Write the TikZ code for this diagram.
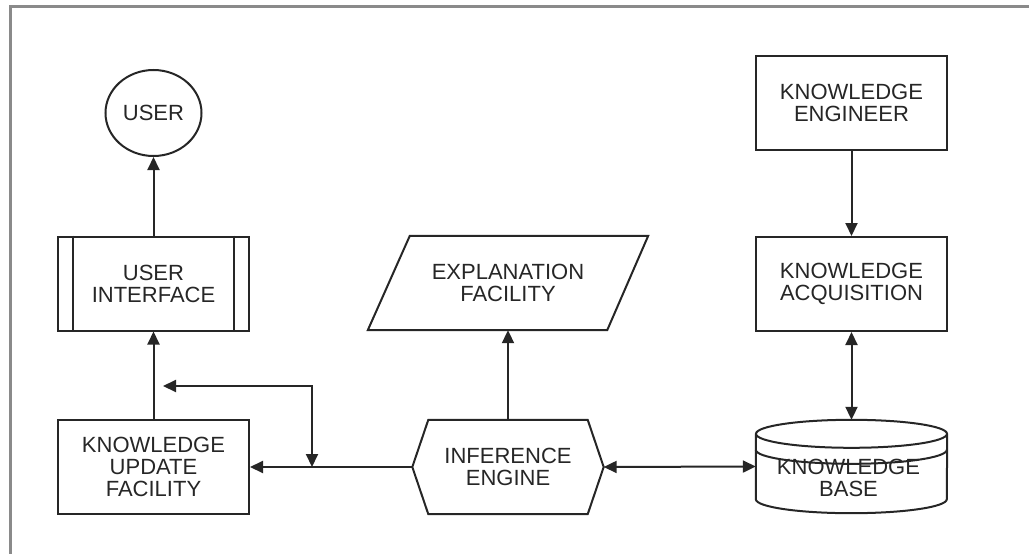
\documentclass[tikz,border=0pt]{standalone}
\usepackage{fontspec}
\setmainfont{Liberation Sans}
\usetikzlibrary{arrows.meta,calc,shapes.geometric}
\definecolor{ln}{HTML}{262626}
\definecolor{fr}{HTML}{8A8A8A}
\definecolor{tx}{HTML}{262626}
\begin{document}
\begin{tikzpicture}[x=1pt,y=-1pt,
  lbl/.style={align=center,font=\fontsize{22}{22}\selectfont,text=tx,inner sep=0pt},
  box/.style={lbl,draw=ln,line width=2pt,minimum width=191pt,minimum height=94pt},
  ghost/.style={lbl,minimum width=#1,minimum height=94pt},
  outline/.style={draw=ln,line width=2pt},
  conn/.style={draw=ln,line width=2pt,-{Triangle[length=13pt,width=12pt]}},
  both/.style={draw=ln,line width=2pt,{Triangle[length=13pt,width=12pt]}-{Triangle[length=13pt,width=12pt]}}
]
\useasboundingbox (0,0) rectangle (1029,554);
\draw[fr,line width=3pt] (10,560) -- (10,6) -- (1035,6);

% nodes
\node[lbl,ellipse,outline,minimum width=96pt,minimum height=86pt] (user) at (153.5,113) {USER};
\node[box] (ui) at (153.5,283.5) {USER\\INTERFACE};
\draw[outline] ([xshift=16pt]ui.north west) -- ([xshift=16pt]ui.south west);
\draw[outline] ([xshift=-16pt]ui.north east) -- ([xshift=-16pt]ui.south east);
\node[box] (kuf) at (153.5,467) {KNOWLEDGE\\UPDATE\\FACILITY};

\node[ghost=280pt] (ef) at (508,283) {EXPLANATION\\FACILITY};
\draw[outline] (ef.south west) -- ([xshift=-41pt]ef.south east) -- (ef.north east) -- ([xshift=42pt]ef.north west) -- cycle;

\node[ghost=191pt] (ie) at (508,467) {INFERENCE\\ENGINE};
\draw[outline] (ie.west) -- ([xshift=16pt]ie.north west) -- ([xshift=-16pt]ie.north east) -- (ie.east) -- ([xshift=-16pt]ie.south east) -- ([xshift=16pt]ie.south west) -- cycle;

\node[box] (ke) at (851.5,103) {KNOWLEDGE\\ENGINEER};
\node[box] (ka) at (851.5,284) {KNOWLEDGE\\ACQUISITION};

\node[ghost=191pt,minimum height=93pt] (kb) at (851.5,466.5) {};
\draw[outline] ($(kb.north)+(0,14)$) ellipse [x radius=95.5pt,y radius=14pt];
\draw[outline] ($(kb.north west)+(0,14)$) -- ($(kb.south west)+(0,-14)$) arc[start angle=180,end angle=360,x radius=95.5pt,y radius=14pt] -- ($(kb.north east)+(0,14)$);
\draw[outline] ($(kb.north west)+(0,30)$) arc[start angle=180,end angle=360,x radius=95.5pt,y radius=14pt];
\node[lbl] (kbt) at ($(kb.center)+(-3,11)$) {KNOWLEDGE\\BASE};

% connectors
\draw[conn] (ui.north) -- (user.south);
\draw[conn] (kuf.north) -- (ui.south);
\draw[conn] (ie.west) -- (kuf.east);
\coordinate (fb) at (163,386);
\coordinate (jn) at (312,467);
\draw[both] (fb) -| (jn);
\draw[conn] (ie.north) -- (ef.south);
\draw[both] (ie.east) -- (kb.west);
\draw[conn] (ke.south) -- (ka.north);
\draw[both] (ka.south) -- (kb.north);
\end{tikzpicture}
\end{document}
